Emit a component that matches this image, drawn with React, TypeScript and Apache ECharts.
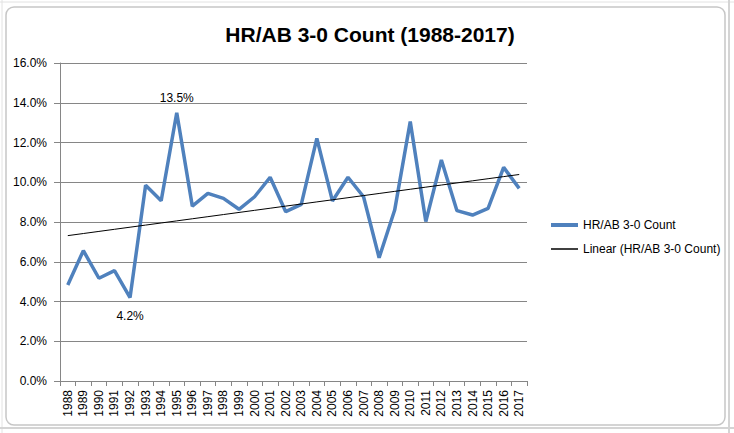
import React, { useEffect, useRef } from "react";
import * as echarts from "echarts";

const years: string[] = [
  "1988", "1989", "1990", "1991", "1992", "1993", "1994", "1995", "1996", "1997",
  "1998", "1999", "2000", "2001", "2002", "2003", "2004", "2005", "2006", "2007",
  "2008", "2009", "2010", "2011", "2012", "2013", "2014", "2015", "2016", "2017",
];

// HR/AB on 3-0 counts, in percent
const hrPerAb: number[] = [
  4.83, 6.56, 5.17, 5.55, 4.2, 9.85, 9.07, 13.5, 8.8, 9.44,
  9.19, 8.64, 9.27, 10.25, 8.52, 8.89, 12.21, 9.06, 10.25, 9.27,
  6.2, 8.6, 13.05, 8.02, 11.12, 8.57, 8.35, 8.69, 10.75, 9.69,
];

const labelledYears: { year: string; pos: "top" | "bottom" }[] = [
  { year: "1995", pos: "top" },
  { year: "1992", pos: "bottom" },
];

const seriesName = "HR/AB 3-0 Count";
const trendName = "Linear (HR/AB 3-0 Count)";
const titleText = "HR/AB 3-0 Count (1988-2017)";

function linearTrend(values: number[]): number[] {
  const n = values.length;
  let sx = 0, sy = 0, sxy = 0, sxx = 0;
  values.forEach((y, i) => {
    const x = i + 1;
    sx += x; sy += y; sxy += x * y; sxx += x * x;
  });
  const slope = (n * sxy - sx * sy) / (n * sxx - sx * sx);
  const intercept = (sy - slope * sx) / n;
  return values.map((_, i) => +(intercept + slope * (i + 1)).toFixed(4));
}

export default function App() {
  const ref = useRef<HTMLDivElement>(null);
  useEffect(() => {
    if (!ref.current) return;
    const chart = echarts.init(ref.current, undefined, { renderer: "svg" });
    const font = "'Liberation Sans', Arial, sans-serif";
    const grey = "#868686";
    const seriesData = hrPerAb.map((v, i) => {
      const lab = labelledYears.find((l) => l.year === years[i]);
      if (!lab) return v;
      return {
        value: v,
        label: {
          show: true,
          position: lab.pos,
          distance: lab.pos === "top" ? 9 : 12,
          formatter: (p: any) => (p.value as number).toFixed(1) + "%",
          color: "#000",
          fontFamily: font,
          fontSize: 12,
        },
      };
    });
    chart.setOption({
      animation: false,
      backgroundColor: "#ffffff",
      title: {
        text: titleText,
        left: 365,
        textAlign: "center",
        top: 19,
        textStyle: { fontFamily: font, fontSize: 21, fontWeight: "bold", color: "#000" },
      },
      grid: { left: 60, right: 207, top: 63, bottom: 52, containLabel: false },
      legend: [
        {
          data: [{ name: seriesName, icon: "rect" }],
          left: 546,
          top: 214,
          orient: "vertical",
          itemWidth: 27,
          itemHeight: 4,
          selectedMode: false,
          textStyle: { fontFamily: font, fontSize: 12, color: "#000" },
        },
        {
          data: [{ name: trendName, icon: "rect" }],
          left: 546,
          top: 238,
          orient: "vertical",
          itemWidth: 27,
          itemHeight: 1.5,
          selectedMode: false,
          textStyle: { fontFamily: font, fontSize: 12, color: "#000" },
        },
      ],
      xAxis: {
        type: "category",
        data: years,
        boundaryGap: true,
        axisLine: { lineStyle: { color: grey, width: 1 } },
        axisTick: { show: true, length: 5, alignWithLabel: false, lineStyle: { color: grey } },
        axisLabel: {
          interval: 0,
          rotate: 90,
          margin: 9,
          fontFamily: font,
          fontSize: 12,
          color: "#000",
        },
        splitLine: { show: false },
      },
      yAxis: {
        type: "value",
        min: 0,
        max: 16,
        interval: 2,
        axisLine: { show: true, lineStyle: { color: grey, width: 1 } },
        axisTick: { show: true, length: 6, lineStyle: { color: grey } },
        axisLabel: {
          margin: 13,
          fontFamily: font,
          fontSize: 12,
          color: "#000",
          formatter: (v: number) => v.toFixed(1) + "%",
        },
        splitLine: { show: true, lineStyle: { color: grey, width: 1 } },
      },
      series: [
        {
          name: seriesName,
          type: "line",
          data: seriesData,
          symbol: "circle",
          symbolSize: 0,
          showSymbol: true,
          lineStyle: { color: "#4F81BD", width: 3.5 },
          itemStyle: { color: "#4F81BD" },
          z: 3,
        },
        {
          name: trendName,
          type: "line",
          data: linearTrend(hrPerAb),
          symbol: "none",
          lineStyle: { color: "#000", width: 1 },
          itemStyle: { color: "#000" },
          z: 4,
        },
      ],
      graphic: [
        {
          type: "rect",
          shape: { x: 6, y: 7, width: 719, height: 418, r: 8 },
          style: { fill: "none", stroke: "#c6c6c6", lineWidth: 1.5 },
          silent: true,
        },
        {
          type: "line",
          shape: { x1: 0, y1: 2, x2: 734, y2: 2 },
          style: { stroke: "#e2e2e2", lineWidth: 1 },
          silent: true,
        },
        {
          type: "line",
          shape: { x1: 2, y1: 0, x2: 2, y2: 433 },
          style: { stroke: "#e2e2e2", lineWidth: 1 },
          silent: true,
        },
        {
          type: "line",
          shape: { x1: 729, y1: 0, x2: 729, y2: 433 },
          style: { stroke: "#d4d4d4", lineWidth: 2 },
          silent: true,
        },
        {
          type: "line",
          shape: { x1: 0, y1: 428, x2: 734, y2: 428 },
          style: { stroke: "#d4d4d4", lineWidth: 2 },
          silent: true,
        },
      ],
    });
    return () => chart.dispose();
  }, []);
  return (
    <div
      ref={ref}
      style={{ position: "absolute", left: 0, top: 0, width: 734, height: 433 }}
    />
  );
}
